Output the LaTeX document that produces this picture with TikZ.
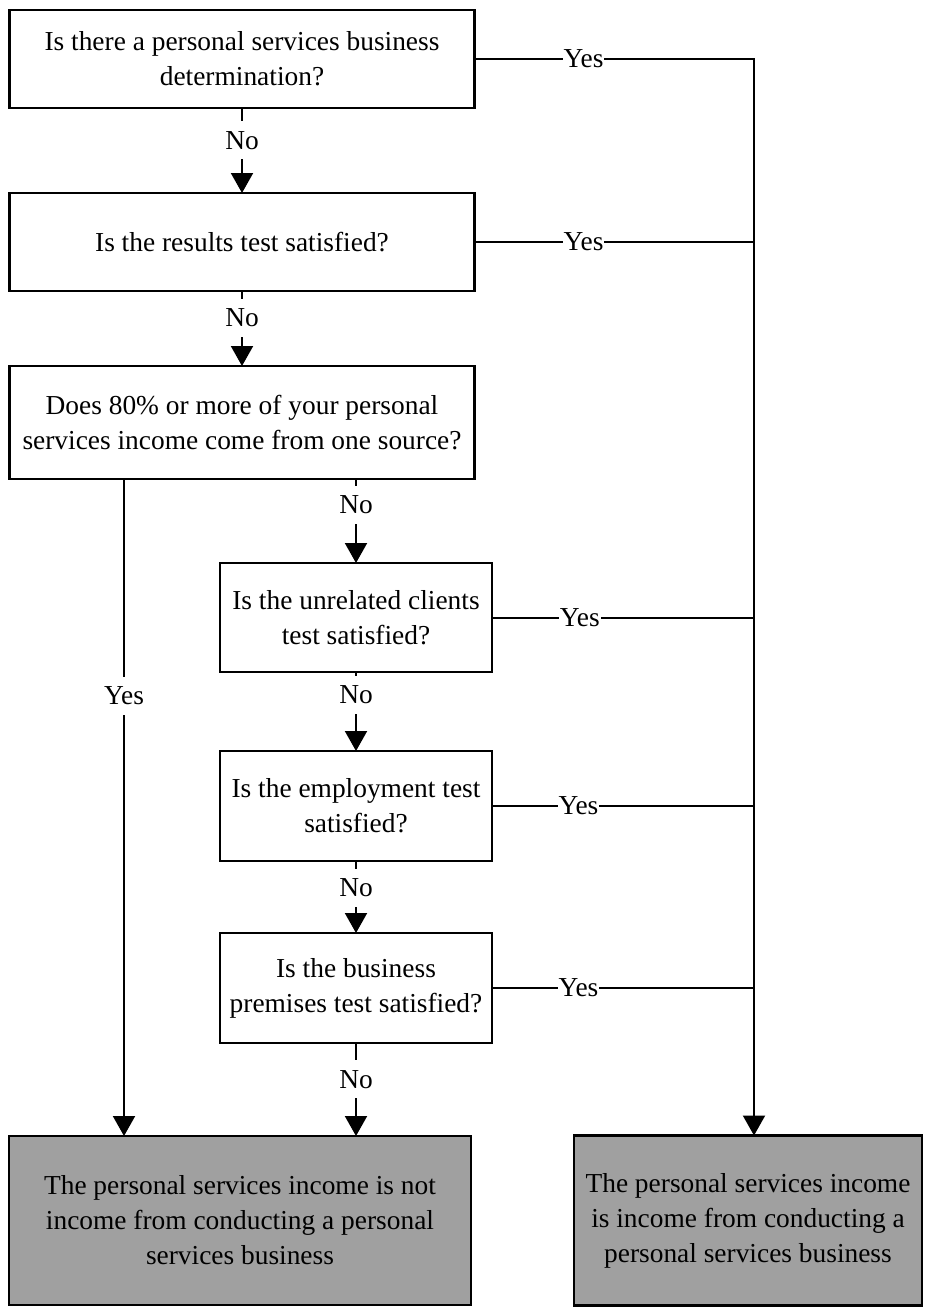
\documentclass[tikz,border=0pt]{standalone}
\usepackage{fontspec}
\setmainfont{Liberation Serif}
\usetikzlibrary{positioning,arrows.meta}
\definecolor{endgray}{RGB}{160,160,160}
\tikzset{question/.style = {rectangle, draw, line width=1.15pt,
  align=center, inner sep=0pt, outer sep=0pt,
  minimum width=232.5pt, minimum height=49pt}}
\tikzset{answer/.style = {question, fill=endgray, minimum height=84.5pt}}
\tikzset{choice/.style = {fill=white, inner xsep=0.5pt, inner ysep=5pt}}
\tikzset{link/.style = {line width=1pt}}
\tikzset{flow/.style = {link, -{Triangle[length=10pt,width=11pt]}}}
\tikzset{every node/.append style = {font=\fontsize{13.7pt}{17.5pt}\selectfont}}

\begin{document}
\begin{tikzpicture}
  \useasboundingbox (-121pt,29.5pt) rectangle (341.5pt,-624pt);
  \node[question] (q1) {Is there a personal services business\\determination?};
  \node[question, below=42.5pt of q1] (q2) {Is the results test satisfied?};
  \node[question, below=37.5pt of q2, minimum height=56.5pt] (q3)
    {Does 80\% or more of your personal\\services income come from one source?};
  \node[question, below=42pt of q3, xshift=57pt,
    minimum width=136pt, minimum height=54.5pt] (q4)
    {Is the unrelated clients\\test satisfied?};
  \node[question, below=39.5pt of q4, minimum width=136pt, minimum height=55pt] (q5)
    {Is the employment test\\satisfied?};
  \node[question, below=36pt of q5, minimum width=136pt, minimum height=55pt] (q6)
    {Is the business\\premises test satisfied?};
  \node[answer, below=46.5pt of q6, xshift=-58pt, minimum width=231pt] (endno)
    {The personal services income is not\\income from conducting a personal\\services business};
  \node[answer, right=51.5pt of endno, minimum width=174pt, minimum height=85pt] (endyes)
    {The personal services income\\is income from conducting a\\personal services business};
  \coordinate (trunk) at ([xshift=3pt]endyes.north |- q1.east);
  \coordinate (yesleft) at ([xshift=57.25pt]q3.south west);
  % the No path
  \draw[flow] (q1) -- node[choice, pos=0.38] {No} (q2);
  \draw[flow] (q2) -- node[choice, pos=0.36] {No} (q3);
  \draw[flow] (q3.south -| q4.north) -- node[choice, pos=0.31] {No} (q4);
  \draw[flow] (q4) -- node[choice, pos=0.29] {No} (q5);
  \draw[flow] (q5) -- node[choice, pos=0.375] {No} (q6);
  \draw[flow] (q6) -- node[choice, pos=0.39] {No} (q6 |- endno.north);
  \draw[flow] (yesleft) -- node[choice, pos=0.33] {Yes} (yesleft |- endno.north);
  % the Yes answers
  \draw[flow] (q1) -- node[choice, pos=0.39] {Yes} (trunk) -- (trunk |- endyes.north);
  \draw[link] (q2) -- node[choice, pos=0.39] {Yes} (q2 -| trunk);
  \draw[link] (q4) -- node[choice, pos=0.335] {Yes} (q4 -| trunk);
  \draw[link] (q5) -- node[choice, pos=0.33] {Yes} (q5 -| trunk);
  \draw[link] (q6) -- node[choice, pos=0.33] {Yes} (q6 -| trunk);
\end{tikzpicture}
\end{document}
